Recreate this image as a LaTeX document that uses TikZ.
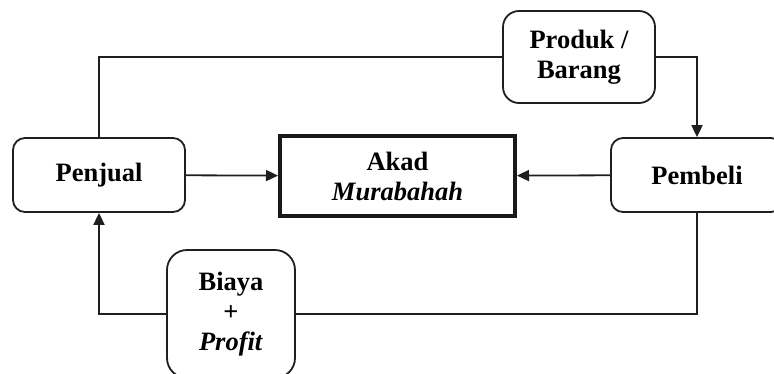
\documentclass[tikz,border=0pt]{standalone}
\usepackage{fontspec}
\setmainfont{Liberation Serif}
\usetikzlibrary{positioning,arrows.meta}

\begin{document}
\begin{tikzpicture}[x=1pt, y=-1pt,
  every node/.style = {align=center, inner sep=0pt, font=\fontsize{26.5}{30}\selectfont\bfseries},
  party/.style = {draw=black!88, line width=1.8pt, rounded corners=12pt, minimum width=172pt, minimum height=74pt},
  thing/.style = {draw=black!88, line width=1.8pt, rounded corners=#1},
  link/.style = {draw=black!88, line width=1.8pt, -{Triangle[length=12pt,width=11pt]}}
]
\useasboundingbox (0,0) rectangle (774,373);
\node[party] (penjual) at (99,175) {Penjual};
\node[party] (pembeli) at (697,175) {Pembeli};
\node[draw=black!90, line width=4pt, minimum width=235pt, minimum height=80pt] (akad) at (397.5,176)
    {Akad\\\textit{Murabahah}};
\node[thing=16pt, minimum width=152pt, minimum height=92pt] (produk) at (579,57) {Produk /\\Barang};
\node[thing=20pt, minimum width=128pt, minimum height=128pt] (biaya) at (231,314)
    {Biaya\\+\\\textit{Profit}};

\draw[link] (penjual) -- (akad);
\draw[link] (pembeli) -- (akad);
\draw[draw=black!88, line width=1.8pt] (penjual.north) |- (produk.west);
\draw[link] (produk.east) -| (pembeli.north);
\draw[draw=black!88, line width=1.8pt] (pembeli.south) |- (biaya.east);
\draw[link] (biaya.west) -| (penjual.south);
\end{tikzpicture}
\end{document}
